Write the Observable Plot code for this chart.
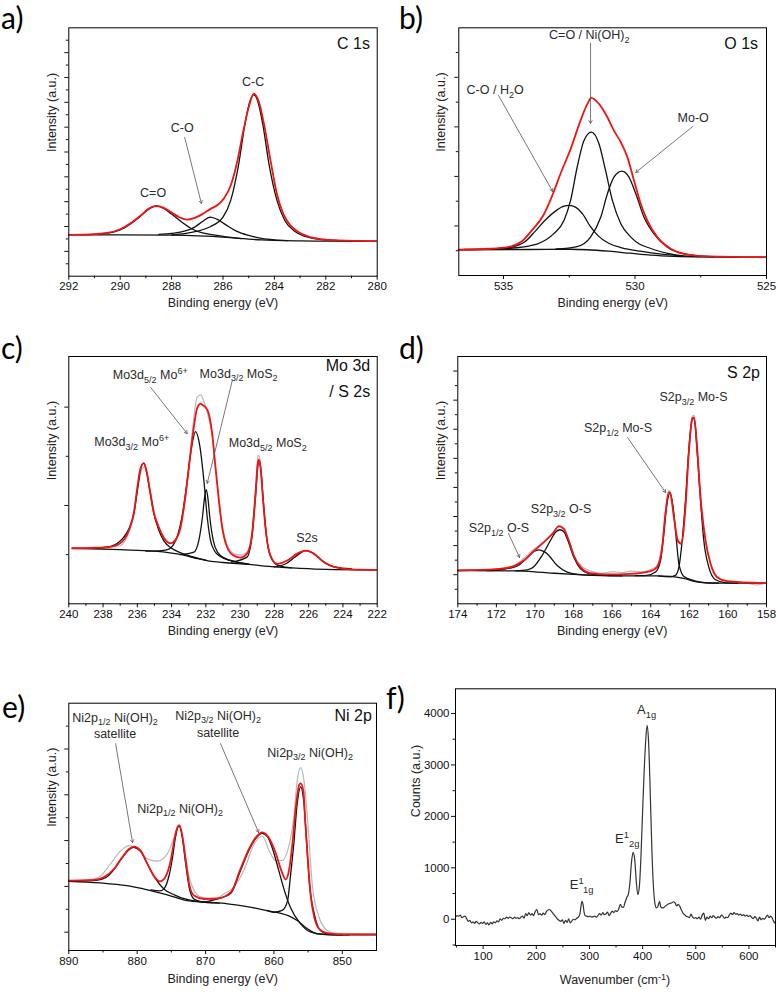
<!DOCTYPE html>
<html><head><meta charset="utf-8">
<script src="https://cdn.jsdelivr.net/npm/d3@7"></script>
<script src="https://cdn.jsdelivr.net/npm/@observablehq/plot@0.6"></script>
<style>
body{margin:0;background:#fff;}
#wrap{position:relative;width:778px;height:992px;overflow:hidden;background:#fff;font-family:"Liberation Sans",Arial,sans-serif;}
.panel{position:absolute;}
.lab{position:absolute;font-family:Lato,"Open Sans",sans-serif;font-size:30px;line-height:34px;color:#000;}
</style></head><body><div id="wrap"></div>
<script>
// ---------- Panel a: C 1s ----------
const aBase = [[292,3.33],[290,3.33],[288,3.3],[287,3.25],[286,3.15],[285.5,3.06],[285,2.98],[284.5,2.92],[284,2.88],[283,2.84],[282,2.82],[280,2.82]];
const aCdO = [[291.5,3.34],[291,3.37],[290.5,3.46],[290,3.72],[289.6,4.2],[289.2,4.85],[288.9,5.38],[288.6,5.64],[288.3,5.45],[288,5.0],[287.6,4.35],[287.2,3.8],[286.8,3.48],[286.3,3.3],[285.8,3.14],[285.3,3.03]];
const aCO = [[288.5,3.36],[288,3.45],[287.5,3.62],[287.1,3.95],[286.8,4.4],[286.5,4.75],[286.2,4.55],[285.9,4.15],[285.5,3.65],[285,3.28],[284.5,3.05],[284,2.93],[283.5,2.87]];
const aCC = [[288,3.32],[287.5,3.42],[287,3.62],[286.5,3.98],[286,4.75],[285.7,6.1],[285.4,8.9],[285.15,12.2],[284.95,14.1],[284.8,14.6],[284.65,14.1],[284.45,12.2],[284.2,8.9],[283.9,6.1],[283.6,4.5],[283.2,3.6],[282.8,3.2],[282.3,2.98],[281.5,2.87],[280.5,2.83]];
const aEnv = [[292,3.33],[291,3.39],[290.5,3.48],[290,3.78],[289.6,4.26],[289.2,4.9],[288.9,5.42],[288.6,5.66],[288.3,5.5],[288,5.12],[287.7,4.75],[287.4,4.55],[287.1,4.7],[286.8,5.0],[286.5,5.4],[286.2,5.75],[285.95,6.3],[285.7,7.3],[285.45,9.2],[285.2,11.8],[285,13.6],[284.8,14.7],[284.6,14.0],[284.4,12.2],[284.15,9.3],[283.9,6.6],[283.65,5.0],[283.4,4.15],[283.1,3.6],[282.7,3.2],[282.2,2.98],[281.5,2.88],[280,2.82]];
const aNotes = [[284.81,15.62,[["C-C"]]],[287.57,11.89,[["C-O"]]],[288.7,6.66,[["C=O"]]]];
const aArrows = [[287.49,11.17,286.84,5.85]];

// ---------- Panel b: O 1s ----------
const bBase = [[536.7,1.04],[534,1.05],[532.5,1.06],[531.8,1.04],[531,0.98],[530.2,0.9],[529.4,0.82],[528.5,0.77],[527.5,0.75],[525,0.74]];
const bCOH = [[536.5,1.05],[535.5,1.07],[534.7,1.15],[534.2,1.35],[533.8,1.78],[533.4,2.25],[533.0,2.62],[532.7,2.8],[532.5,2.83],[532.25,2.75],[532.0,2.5],[531.7,1.98],[531.4,1.6],[531.0,1.3],[530.5,1.12],[529.8,0.98],[529.0,0.86],[528.2,0.79]];
const bCONi = [[535,1.08],[534.5,1.12],[534,1.2],[533.7,1.28],[533.1,1.68],[532.7,2.22],[532.45,3.03],[532.2,4.37],[531.94,5.45],[531.66,5.79],[531.37,5.32],[531.12,4.24],[530.86,3.03],[530.54,2.09],[530.16,1.55],[529.8,1.25],[529.5,1.13],[528.8,0.9],[528,0.78],[527,0.75]];
const bMoO = [[533,1.07],[532.2,1.17],[531.69,1.55],[531.3,2.36],[531.05,3.3],[530.8,3.97],[530.5,4.21],[530.23,3.97],[529.97,3.3],[529.66,2.36],[529.28,1.68],[528.77,1.14],[528.13,0.87],[527.3,0.77],[526,0.74]];
const bEnv = [[536.7,1.04],[535.5,1.08],[534.7,1.18],[534.3,1.38],[533.9,1.85],[533.5,2.4],[533.12,3.3],[532.8,4.2],[532.45,5.1],[532.07,6.26],[531.8,6.95],[531.66,7.17],[531.37,6.93],[531.05,6.39],[530.8,5.85],[530.54,5.38],[530.29,4.78],[530.04,3.84],[529.78,2.89],[529.53,2.22],[529.15,1.55],[528.64,1.08],[528.13,0.87],[527.2,0.77],[525,0.74]];
const bNotes = [[531.72,9.69,[["C=O / Ni(OH)"],["2","sub"]]],[535.3,7.47,[["C-O / H"],["2","sub"],["O"]]],[527.77,6.34,[["Mo-O"]]]];
const bArrows = [[531.69,9.37,531.69,6.14],[535.19,7.27,533.13,3.39],[527.8,6.02,529.97,4.16]];

// ---------- Panel c: Mo 3d / S 2s ----------
const cBase = [[239.8,1.13],[237,1.1],[235,1.07],[234,1.03],[233.3,0.99],[232.5,0.92],[231.8,0.87],[231,0.84],[229.5,0.8],[228,0.75],[226.5,0.72],[225,0.7],[222,0.69]];
const cMo6a = [[238.5,1.13],[237.8,1.15],[237.2,1.22],[236.8,1.35],[236.5,1.52],[236.2,1.84],[236.0,2.3],[235.82,2.72],[235.62,2.86],[235.47,2.7],[235.27,2.3],[235.04,1.84],[234.75,1.5],[234.45,1.28],[234.0,1.13],[233.5,1.04],[233.0,0.98],[232.0,0.89]];
const cMo6b = [[235.5,1.07],[234.6,1.08],[234.16,1.11],[233.9,1.2],[233.68,1.36],[233.38,1.8],[233.09,2.5],[232.85,3.15],[232.6,3.5],[232.35,3.2],[232.1,2.45],[231.92,1.76],[231.73,1.29],[231.5,1.08],[231.2,0.97],[230.56,0.88],[229.8,0.82]];
const cMoS2a = [[233.5,1.0],[232.7,1.05],[232.41,1.29],[232.2,1.76],[232.08,2.15],[231.98,2.32],[231.88,2.15],[231.77,1.76],[231.57,1.29],[231.3,1.04],[230.9,0.93],[230.3,0.86],[229.5,0.81]];
const cMoS2b = [[230.5,0.85],[229.6,0.95],[229.3,1.4],[229.1,2.2],[228.95,2.85],[228.9,2.9],[228.8,2.75],[228.65,2.1],[228.48,1.42],[228.25,0.98],[227.8,0.78],[227,0.73]];
const cS2s = [[228,0.75],[227.3,0.82],[226.8,0.95],[226.4,1.05],[226.15,1.08],[225.8,1.04],[225.4,0.93],[225,0.82],[224.5,0.75],[223.5,0.71]];
const cRaw = [[239.8,1.12],[238,1.14],[237,1.18],[236.5,1.45],[236.2,1.8],[236.0,2.3],[235.8,2.66],[235.62,2.78],[235.45,2.66],[235.25,2.3],[235.0,1.85],[234.75,1.56],[234.45,1.35],[234.06,1.24],[233.77,1.3],[233.48,1.55],[233.19,2.15],[232.9,3.1],[232.7,3.8],[232.51,4.2],[232.3,4.25],[232.1,4.1],[231.92,3.9],[231.63,3.4],[231.44,2.8],[231.24,2.15],[231.05,1.6],[230.76,1.2],[230.37,1.02],[229.98,0.99],[229.59,1.06],[229.3,1.5],[229.1,2.35],[228.97,2.98],[228.91,3.02],[228.81,2.85],[228.66,2.15],[228.48,1.45],[228.23,1.0],[227.84,0.82],[227.25,0.88],[226.67,1.02],[226.18,1.08],[225.7,1.02],[225.11,0.85],[224.53,0.75],[223.56,0.7],[222,0.69]];
const cEnv = [[239.8,1.13],[238.5,1.14],[237.57,1.16],[236.9,1.26],[236.5,1.49],[236.2,1.86],[236.0,2.37],[235.82,2.75],[235.62,2.86],[235.47,2.71],[235.27,2.31],[235.04,1.86],[234.75,1.56],[234.45,1.34],[234.06,1.23],[233.77,1.3],[233.48,1.55],[233.19,2.2],[232.9,3.05],[232.7,3.6],[232.51,3.98],[232.3,4.07],[232.22,4.05],[231.92,3.95],[231.63,3.46],[231.44,2.78],[231.24,2.1],[231.05,1.56],[230.76,1.15],[230.37,0.98],[229.98,0.94],[229.59,1.02],[229.3,1.42],[229.1,2.24],[228.97,2.85],[228.91,2.93],[228.81,2.78],[228.66,2.1],[228.48,1.42],[228.23,0.98],[227.84,0.81],[227.25,0.88],[226.67,1.02],[226.18,1.08],[225.7,1.02],[225.11,0.85],[224.53,0.75],[223.56,0.7],[222,0.69]];
const cNotes = [[235.22,4.65,[["Mo3d"],["5/2","sub"],[" Mo"],["6+","sup"]]],[230.06,4.68,[["Mo3d"],["3/2","sub"],[" MoS"],["2","sub"]]],[236.3,3.29,[["Mo3d"],["3/2","sub"],[" Mo"],["6+","sup"]]],[228.36,3.27,[["Mo3d"],["5/2","sub"],[" MoS"],["2","sub"]]],[226.07,1.33,[["S2s"]]]];
const cArrows = [[235.22,4.40,233.09,3.46],[230.46,4.54,231.92,2.45]];

// ---------- Panel d: S 2p ----------
const dBase = [[174,2.29],[171,2.26],[170,2.2],[169,2.1],[168,2.02],[167,1.96],[165.4,1.92],[163.7,1.92],[163,1.88],[162.3,1.74],[161.6,1.5],[161,1.43],[160.2,1.42],[158,1.42]];
const dOS12 = [[172.5,2.28],[171.8,2.34],[171.3,2.45],[170.92,2.6],[170.41,3.16],[170.06,3.6],[169.8,3.71],[169.55,3.6],[169.37,3.44],[168.85,2.63],[168.33,2.18],[167.64,2.0],[167,1.96]];
const dOS32 = [[171,2.27],[170.4,2.33],[170.06,2.55],[169.63,3.32],[169.2,4.35],[168.95,4.9],[168.71,5.09],[168.5,4.95],[168.33,4.47],[167.99,3.21],[167.64,2.41],[167.12,2.06],[166.3,1.95],[165.5,1.92]];
const dMoS12 = [[164.8,1.93],[164.2,1.96],[163.75,2.18],[163.49,2.98],[163.32,4.81],[163.18,6.64],[163.01,7.61],[162.84,6.64],[162.7,4.81],[162.54,2.75],[162.28,1.88],[161.77,1.6],[161.2,1.46],[160.5,1.42]];
const dMoS32 = [[163.6,1.92],[163.0,1.86],[162.72,1.95],[162.54,2.52],[162.37,4.35],[162.2,7.1],[162.03,10.54],[161.9,12.3],[161.8,12.83],[161.7,12.3],[161.6,10.54],[161.42,7.1],[161.25,4.35],[160.99,2.52],[160.64,1.65],[160.1,1.44],[159.5,1.42]];
const dRaw = [[174,2.29],[173.4,2.34],[172.8,2.27],[172.2,2.36],[171.6,2.45],[171,2.7],[170.6,3.1],[170.2,3.6],[169.8,4.0],[169.4,4.4],[169.0,4.95],[168.76,5.4],[168.5,5.2],[168.25,4.4],[167.99,3.35],[167.6,2.6],[167.1,2.25],[166.6,2.1],[166.0,2.2],[165.5,2.15],[165.0,2.25],[164.5,2.2],[164.0,2.35],[163.7,2.6],[163.41,3.95],[163.24,6.3],[163.06,7.8],[162.98,7.7],[162.8,6.0],[162.6,4.4],[162.42,4.2],[162.2,6.7],[162.03,10.4],[161.85,12.9],[161.75,12.95],[161.6,10.9],[161.42,7.4],[161.16,4.4],[160.9,2.8],[160.56,1.9],[160.1,1.55],[159.5,1.5],[159,1.4],[158.5,1.3],[158,1.45]];
const dEnv = [[174,2.29],[172,2.38],[171.1,2.59],[170.58,2.98],[170.06,3.62],[169.54,4.24],[169.1,4.81],[168.76,5.32],[168.51,5.15],[168.25,4.35],[167.99,3.32],[167.64,2.52],[167.12,2.11],[166.26,2.02],[165.05,2.06],[164.0,2.25],[163.67,2.52],[163.41,3.89],[163.24,6.19],[163.06,7.67],[162.98,7.56],[162.8,5.96],[162.6,4.35],[162.42,4.12],[162.2,6.64],[162.03,10.3],[161.85,12.71],[161.75,12.78],[161.6,10.77],[161.42,7.33],[161.16,4.35],[160.9,2.75],[160.56,1.83],[160.04,1.56],[158,1.42]];
const dNotes = [[161.76,14.18,[["S2p"],["3/2","sub"],[" Mo-S"]]],[165.67,12.05,[["S2p"],["1/2","sub"],[" Mo-S"]]],[168.62,6.48,[["S2p"],["3/2","sub"],[" O-S"]]],[171.84,5.18,[["S2p"],["1/2","sub"],[" O-S"]]]];
const dArrows = [[165.2,11.43,163.23,7.65],[171.37,4.83,170.8,3.18]];

// ---------- Panel e: Ni 2p ----------
const eBase = [[890,2.22],[885.4,2.15],[881.5,2.03],[878.5,1.85],[875.6,1.63],[872.7,1.38],[869.8,1.31],[866.8,1.24],[863.9,1.12],[861,0.94],[858,0.73],[856.6,0.51],[855.1,0.15],[853.7,-0.07],[851.2,-0.12],[845,-0.12]];
const eSat12 = [[889,2.22],[886,2.26],[884.5,2.4],[883.4,2.74],[882.2,3.25],[881.2,3.6],[880.5,3.71],[879.5,3.54],[878.5,2.98],[877.3,2.33],[876.1,1.89],[874.5,1.62],[873,1.45],[871,1.34],[868,1.27]];
const eNi12 = [[878,1.85],[876.7,1.8],[876.1,1.89],[875.4,2.4],[874.9,3.13],[874.4,4.14],[873.9,4.65],[873.4,4.14],[872.9,2.98],[872.4,1.96],[871.7,1.45],[870.5,1.32],[869,1.29]];
const eSat32 = [[870,1.32],[868.3,1.45],[866.3,1.7],[864.9,2.68],[863.7,3.55],[862.7,4.08],[861.7,4.32],[860.9,4.15],[860.0,3.45],[859.3,2.7],[858.5,1.85],[857.6,1.09],[856.1,0.36],[854.6,0.0],[852.5,-0.1],[850,-0.12]];
const eNi32 = [[861,0.94],[860,0.87],[858.8,0.95],[858.0,1.38],[857.6,2.4],[857.1,3.85],[856.6,5.6],[856.1,6.35],[855.6,5.6],[855.2,3.85],[854.8,2.11],[854.1,0.8],[853.2,0.07],[851.7,-0.1],[849,-0.12]];
const eRaw = [[890,2.25],[887,2.3],[885.8,2.36],[883.9,2.98],[882.4,3.56],[881.2,3.78],[880,3.63],[878.5,3.2],[877.1,3.1],[875.6,3.42],[874.6,4.14],[873.9,4.72],[873.2,3.85],[872.4,2.4],[870.7,1.53],[868.7,1.45],[867.3,1.67],[865.9,1.96],[864.4,2.69],[862.9,3.85],[861.7,4.2],[860.7,3.56],[859.8,3.13],[858.8,3.13],[858.0,3.56],[857.1,5.01],[856.6,6.61],[856.1,7.19],[855.6,6.61],[855.1,5.01],[854.4,2.11],[853.4,0.65],[852.2,0.07],[851.2,-0.04],[845,-0.07]];
const eEnv = [[890,2.25],[886.3,2.28],[884.9,2.4],[883.4,2.76],[882.2,3.27],[881.2,3.63],[880.5,3.74],[879.5,3.56],[878.5,2.98],[877.6,2.47],[876.7,2.22],[875.9,2.4],[875.1,3.13],[874.5,4.14],[874.1,4.58],[873.8,4.65],[873.4,4.22],[872.9,3.13],[872.4,2.11],[871.7,1.6],[870.2,1.45],[868.3,1.47],[866.3,1.75],[864.9,2.75],[863.7,3.6],[862.7,4.12],[861.7,4.36],[860.7,4.1],[859.8,3.5],[858.8,2.6],[858.3,2.3],[857.8,2.69],[857.3,3.85],[856.8,5.45],[856.3,6.44],[856.1,6.5],[855.7,6.18],[855.4,4.72],[855.0,2.98],[854.6,1.53],[854.1,0.65],[853.4,0.15],[852.2,-0.04],[849.7,-0.1],[845,-0.1]];
const eNotes = [[883.16,9.36,[["Ni2p"],["1/2","sub"],[" Ni(OH)"],["2","sub"]]],[883.16,8.67,[["satellite"]]],[868.09,9.45,[["Ni2p"],["3/2","sub"],[" Ni(OH)"],["2","sub"]]],[868.09,8.71,[["satellite"]]],[854.63,7.84,[["Ni2p"],["3/2","sub"],[" Ni(OH)"],["2","sub"]]],[873.65,5.39,[["Ni2p"],["1/2","sub"],[" Ni(OH)"],["2","sub"]]]];
const eArrows = [[883.16,8.23,880.67,3.91],[867.8,8.23,862.24,4.35]];

// ---------- Panel f: Raman ----------
const fSpectrum = [[48,40],[51,70],[54,60],[57,80],[60,30],[63,50],[66,60],[69,10],[72,-40],[75,-20],[78,-70],[81,-50],[84,-80],[87,-40],[90,-70],[93,-90],[96,-60],[99,-80],[102,-50],[105,-100],[108,-70],[111,-110],[114,-60],[117,-90],[120,-50],[123,-70],[126,-30],[129,-50],[132,10],[135,-20],[138,20],[141,10],[144,40],[147,20],[150,40],[153,30],[156,10],[159,40],[162,20],[165,30],[168,10],[171,40],[174,60],[177,20],[180,110],[183,70],[186,130],[189,80],[192,110],[195,70],[198,150],[201,190],[204,90],[207,110],[210,80],[213,120],[216,90],[219,150],[222,180],[225,190],[228,160],[231,120],[234,80],[237,40],[240,0],[243,-20],[246,-40],[249,-10],[252,-80],[255,-20],[258,-60],[261,10],[264,-70],[267,-30],[270,0],[273,-10],[276,20],[279,40],[282,100],[284,250],[286,350],[288,290],[290,130],[292,70],[295,60],[298,50],[301,60],[304,40],[307,50],[310,60],[313,40],[316,70],[319,110],[322,80],[325,130],[328,90],[331,100],[334,140],[337,70],[340,120],[343,160],[346,130],[349,170],[352,150],[355,200],[358,290],[361,240],[364,230],[367,330],[370,420],[373,480],[376,700],[379,1100],[382,1300],[385,1180],[388,750],[391,480],[394,650],[397,1250],[400,2100],[403,2900],[406,3500],[408.5,3770],[411,3500],[414,2600],[417,1500],[420,700],[423,320],[426,220],[429,260],[432,350],[434,240],[437,220],[440,230],[443,260],[446,280],[449,300],[452,310],[455,320],[458,340],[461,320],[464,260],[467,290],[470,250],[473,180],[476,120],[479,90],[482,60],[485,50],[488,30],[491,100],[494,40],[497,20],[500,30],[503,10],[506,40],[509,0],[512,80],[515,120],[518,-20],[521,40],[524,10],[527,60],[530,30],[533,70],[536,40],[539,20],[542,50],[545,30],[548,80],[551,60],[554,20],[557,40],[560,30],[563,80],[566,120],[569,90],[572,130],[575,100],[578,110],[581,80],[584,100],[587,70],[590,90],[593,60],[596,80],[599,50],[602,70],[605,40],[608,10],[611,50],[614,20],[617,-30],[620,40],[623,-10],[626,20],[629,0],[632,40],[635,80],[638,30],[641,60],[644,20],[647,-50],[650,-80]];
const fNotes = [[408.5,4070,[["A"],["1g","sub"]]],[372,1562,[["E"],["1","sup"],["2g","sub"]]],[286.3,674,[["E"],["1","sup"],["1g","sub"]]]];

const odd = (a, b) => d3.range(a, b + 1, 2);
const RED = "#f01414", BLACK = "#111", GRAY = "#b8b8b8";
const FONT = '"Liberation Sans", Arial, sans-serif';

function rich(svg, x, y, parts, o = {}) {
  const size = o.size || 12.5;
  const t = d3.select(svg).append("text")
    .attr("x", x).attr("y", y + size * 0.35)
    .attr("text-anchor", o.anchor || "middle")
    .attr("font-size", size).attr("font-family", FONT)
    .attr("fill", o.fill || "#2a2a2a");
  if (o.rotate) t.attr("transform", `rotate(${o.rotate},${x},${y})`);
  let shift = 0;
  for (const [s, m] of parts) {
    const target = m === "sub" ? size * 0.3 : m === "sup" ? -size * 0.38 : 0;
    const ts = t.append("tspan").text(s);
    if (target - shift !== 0) ts.attr("dy", target - shift);
    if (m) ts.attr("font-size", size * 0.72);
    shift = target;
  }
}

function makePanel(p) {
  const marks = [
    Plot.axisX({ticks: p.xMajor, tickSize: 4, tickPadding: 2, tickFormat: d => String(d), label: null}),
    Plot.axisX({ticks: p.xMinor, tickSize: 2.5, tickFormat: () => "", label: null}),
    Plot.axisY({ticks: p.yMajor, tickSize: 4, tickPadding: 2, tickFormat: p.yLabels ? (d => String(d)) : () => "", label: null}),
    Plot.axisY({ticks: p.yMinor, tickSize: 2.5, tickFormat: () => "", label: null})
  ];
  for (const s of p.series) {
    marks.push(Plot.line(s.data.map(([x, y]) => ({x, y})), {x: "x", y: "y", stroke: s.color, strokeWidth: s.w, curve: "monotone-x", clip: true}));
  }
  marks.push(Plot.arrow(p.arrows, {x1: d => d[0], y1: d => d[1], x2: d => d[2], y2: d => d[3], stroke: "#555", strokeWidth: 0.8, headLength: 6}));
  marks.push(Plot.frame({stroke: "#000", strokeWidth: 1}));
  if (p.xTitle) marks.push(Plot.text([p.xTitle], {text: d => d, frameAnchor: "bottom", dy: p.xTitleDy, fontSize: 12.5, fill: "#222"}));
  marks.push(Plot.text([p.yTitle], {text: d => d, frameAnchor: "left", rotate: -90, dx: p.yTitleDx, fontSize: 12.5, fill: "#222"}));
  const svg = Plot.plot({
    width: p.width, height: p.height,
    marginLeft: p.m[0], marginRight: p.m[1], marginTop: p.m[2], marginBottom: p.m[3],
    x: {domain: p.xDomain}, y: {domain: p.yDomain},
    style: {fontFamily: FONT, fontSize: "11.5px", color: "#111", background: "transparent"},
    marks
  });
  const sx = svg.scale("x"), sy = svg.scale("y");
  for (const [x, y, parts] of p.notes) rich(svg, sx.apply(x), sy.apply(y), parts, {size: p.noteSize || 12.5});
  for (const t of (p.titles || [])) rich(svg, sx.apply(t[0]), sy.apply(t[1]), [[t[2]]], {size: 16, anchor: "end", fill: "#111"});
  if (p.xRich) {
    const r = sx.range;
    rich(svg, (r[0] + r[1]) / 2, sy.apply(p.yDomain[0]) + p.xTitleDy, p.xRich, {size: 12.5, fill: "#222"});
  }
  svg.classList.add("panel");
  svg.style.left = p.left + "px";
  svg.style.top = p.top + "px";
  document.getElementById("wrap").appendChild(svg);
}

const blk = (data) => ({data, color: BLACK, w: 1.3});
const BE = "Binding energy (eV)", INT = "Intensity (a.u.)";

makePanel({left: 0, top: 0, width: 389, height: 320, m: [68.3, 12.3, 27.3, 44.3],
  xDomain: [292, 280], yDomain: [0, 20], xMajor: d3.range(292, 279, -2), xMinor: odd(281, 291),
  yMajor: d3.range(2, 19, 2), yMinor: odd(1, 19),
  series: [blk(aBase), blk(aCdO), blk(aCO), blk(aCC), {data: aEnv, color: RED, w: 1.8}],
  arrows: aArrows, notes: aNotes, titles: [[280.26, 18.74, "C 1s"]],
  xTitle: BE, xTitleDy: 31, yTitle: INT, yTitleDx: -17});

makePanel({left: 389, top: 0, width: 389, height: 320, m: [69.3, 12, 27.3, 45],
  xDomain: [536.7, 525], yDomain: [0, 10], xMajor: [535, 530, 525], xMinor: [532.5, 527.5],
  yMajor: [2, 4, 6, 8], yMinor: [1, 3, 5, 7, 9],
  series: [blk(bBase), blk(bCOH), blk(bCONi), blk(bMoO), {data: bEnv, color: RED, w: 1.8}],
  arrows: bArrows, notes: bNotes, titles: [[525.3, 9.37, "O 1s"]],
  xTitle: BE, xTitleDy: 31, yTitle: INT, yTitleDx: -18});

makePanel({left: 0, top: 320, width: 389, height: 330, m: [68.3, 12.3, 36, 46.7],
  xDomain: [240, 222], yDomain: [0, 5.03], xMajor: d3.range(240, 221, -2), xMinor: odd(223, 239),
  yMajor: [2, 4], yMinor: [1, 3],
  series: [{data: cRaw, color: GRAY, w: 1.2}, blk(cBase), blk(cMo6a), blk(cMo6b), blk(cMoS2a), blk(cMoS2b), blk(cS2s), {data: cEnv, color: RED, w: 1.8}],
  arrows: cArrows, notes: cNotes, titles: [[222.38, 4.84, "Mo 3d"], [222.38, 4.3, "/ S 2s"]],
  xTitle: BE, xTitleDy: 31, yTitle: INT, yTitleDx: -17});

makePanel({left: 389, top: 320, width: 389, height: 330, m: [68.3, 12, 36, 46.7],
  xDomain: [174, 158], yDomain: [0, 17], xMajor: d3.range(174, 157, -2), xMinor: odd(159, 173),
  yMajor: d3.range(2, 17, 2), yMinor: odd(1, 15),
  series: [{data: dRaw, color: GRAY, w: 1.2}, blk(dBase), blk(dOS12), blk(dOS32), blk(dMoS12), blk(dMoS32), {data: dEnv, color: RED, w: 1.8}],
  arrows: dArrows, notes: dNotes, titles: [[158.31, 15.9, "S 2p"]],
  xTitle: BE, xTitleDy: 31, yTitle: INT, yTitleDx: -17});

makePanel({left: 0, top: 650, width: 389, height: 342, m: [68.3, 13, 52.7, 42],
  xDomain: [890, 845], yDomain: [-0.8, 10], xMajor: [890, 880, 870, 860, 850], xMinor: [885, 875, 865, 855],
  yMajor: [0, 2, 4, 6, 8], yMinor: [1, 3, 5, 7, 9],
  series: [{data: eRaw, color: GRAY, w: 1.2}, blk(eBase), blk(eSat12), blk(eNi12), blk(eSat32), blk(eNi32), {data: eEnv, color: RED, w: 1.8}],
  arrows: eArrows, notes: eNotes, titles: [[845.6, 9.45, "Ni 2p"]],
  xTitle: BE, xTitleDy: 32, yTitle: INT, yTitleDx: -17});

makePanel({left: 380, top: 650, width: 398, height: 342, m: [75, 3, 38.3, 47],
  xDomain: [48, 650], yDomain: [-510, 4480], xMajor: [100, 200, 300, 400, 500, 600], xMinor: [50, 150, 250, 350, 450, 550, 650],
  yMajor: [0, 1000, 2000, 3000, 4000], yMinor: [-500, 500, 1500, 2500, 3500], yLabels: true,
  series: [{data: fSpectrum, color: "#333", w: 1.2}],
  arrows: [], notes: fNotes, noteSize: 13,
  xRich: [["Wavenumber (cm"], ["-1", "sup"], [")"]], xTitleDy: 35, yTitle: "Counts (a.u.)", yTitleDx: -40});

// panel letters
const letters = [["a)", 1, 0], ["b)", 399, 0], ["c)", 1, 330], ["d)", 399, 330], ["e)", 2, 689], ["f)", 386, 680]];
for (const [t, x, y] of letters) {
  const d = document.createElement("div");
  d.className = "lab"; d.textContent = t;
  d.style.left = x + "px"; d.style.top = y + "px";
  document.getElementById("wrap").appendChild(d);
}
</script></body></html>
